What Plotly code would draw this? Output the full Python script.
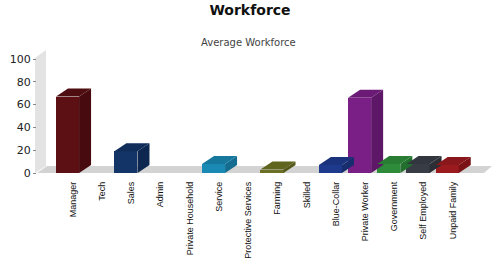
import plotly.graph_objects as go

categories = ["Manager", "Tech", "Sales", "Admin", "Private Household", "Service",
              "Protective Services", "Farming", "Skilled", "Blue-Collar",
              "Private Worker", "Government", "Self Employed", "Unpaid Family"]
values = [67, 0, 19, 0, 0, 8, 0, 3, 0, 7, 66, 8, 8, 7]
front_colors = ["#5c1014", "#000000", "#133466", "#000000", "#000000", "#1a8ab5", "#000000",
                "#6b7024", "#000000", "#1e3a8c", "#7a1f85", "#2d8b3a", "#383c45", "#9a1a1e"]
side_colors = ["#470b0f", "#000000", "#0e2750", "#000000", "#000000", "#146d90", "#000000",
               "#545818", "#000000", "#172d6e", "#5e1766", "#22702d", "#2b2e35", "#7a1216"]
top_colors = ["#4e0d11", "#000000", "#112e5a", "#000000", "#000000", "#17789e", "#000000",
              "#5f641e", "#000000", "#1b337c", "#6b1b75", "#287c33", "#32363e", "#8a171b"]
yticks = [0, 20, 40, 60, 80, 100]

W, H = 500, 280
L, R, T, B = 37, 10, 59, 107
pw, ph = W - L - R, H - T - B
xr = [-1.23, 14.28]
ux = pw / (xr[1] - xr[0])
uy = ph / 100.0
DXp, DYp = 12, 8
dx, dy = DXp / ux, DYp / uy
f0, f1 = -0.58, 0.21

xs = list(range(len(categories)))
fig = go.Figure()
fig.add_trace(go.Bar(x=xs, y=values, width=f1 - f0, offset=f0,
                     marker=dict(color=front_colors, line=dict(width=0)),
                     hoverinfo="skip", showlegend=False))
for i, v in enumerate(values):
    if v <= 0:
        continue
    fig.add_trace(go.Scatter(
        x=[i + f1, i + f1 + dx, i + f1 + dx, i + f1, i + f1],
        y=[0, dy, v + dy, v, 0], fill="toself", mode="lines",
        line=dict(width=0), fillcolor=side_colors[i], hoverinfo="skip", showlegend=False))
    fig.add_trace(go.Scatter(
        x=[i + f0, i + f0 + dx, i + f1 + dx, i + f1, i + f0],
        y=[v, v + dy, v + dy, v, v], fill="toself", mode="lines",
        line=dict(width=0), fillcolor=top_colors[i], hoverinfo="skip", showlegend=False))

def px(xp):
    return (xp - L) / pw
def py(yp):
    return (H - B - yp) / ph

wall = f"M {px(35)} {py(173)} L {px(35)} {py(58)} L {px(46)} {py(50)} L {px(46)} {py(166)} Z"
floor = f"M {px(37)} {py(173)} L {px(47)} {py(166)} L {px(492)} {py(166)} L {px(484)} {py(173)} Z"
shapes = [
    dict(type="path", path=wall, xref="paper", yref="paper", fillcolor="#e3e3e3",
         line=dict(width=0), layer="below"),
    dict(type="path", path=floor, xref="paper", yref="paper", fillcolor="#d3d3d3",
         line=dict(width=0), layer="below"),
]

fig.update_layout(
    width=W, height=H, margin=dict(l=L, r=R, t=T, b=B),
    paper_bgcolor="white", plot_bgcolor="rgba(0,0,0,0)",
    shapes=shapes, bargap=0,
    title=dict(text="<b>Workforce</b>", x=0.5, xanchor="center", y=0.965, yanchor="middle",
               font=dict(family="DejaVu Sans", size=14, color="#111")),
    annotations=[dict(text="Average Workforce", x=px(248), xref="paper", xanchor="center",
                      y=py(42), yref="paper", yanchor="middle", showarrow=False,
                      font=dict(family="DejaVu Sans", size=10, color="#444"))],
    xaxis=dict(range=xr, tickvals=xs, ticktext=categories, tickangle=-90,
               showgrid=False, zeroline=False, showline=False, ticks="",
               ticklabelstandoff=6,
               tickfont=dict(family="Liberation Sans", size=9, color="#111")),
    yaxis=dict(range=[0, 100], tickvals=yticks, showgrid=False, zeroline=False,
               showline=False, ticks="outside", ticklen=3, tickcolor="#888",
               tickfont=dict(family="DejaVu Sans", size=11, color="#222")),
)
fig.write_html("out.html")
